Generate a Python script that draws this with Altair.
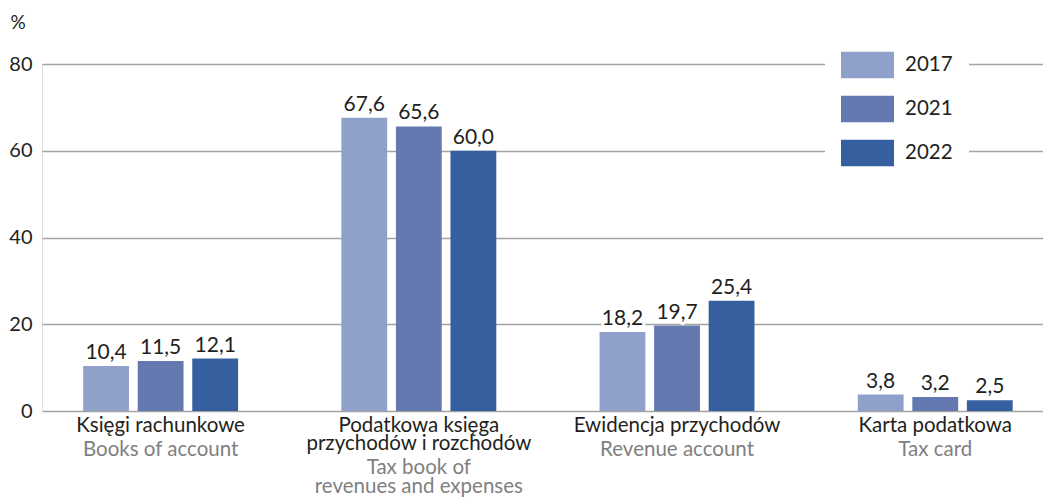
import json
import altair as alt
import pandas as pd

# ---- data ----
categories = ["Księgi rachunkowe", "Podatkowa księga przychodów i rozchodów",
              "Ewidencja przychodów", "Karta podatkowa"]
cat_pl_lines = [["Księgi rachunkowe"], ["Podatkowa księga", "przychodów i rozchodów"],
                ["Ewidencja przychodów"], ["Karta podatkowa"]]
cat_en_lines = [["Books of account"], ["", "Tax book of", "revenues and expenses"],
                ["Revenue account"], ["Tax card"]]
years = ["2017", "2021", "2022"]
v2017 = [10.4, 67.6, 18.2, 3.8]
v2021 = [11.5, 65.6, 19.7, 3.2]
v2022 = [12.1, 60.0, 25.4, 2.5]
y_ticks = [0, 20, 40, 60, 80]
colors = ["#8fa0ca", "#6379b0", "#365f9f"]

rows = []
for yr, vals in zip(years, [v2017, v2021, v2022]):
    for c, v in zip(categories, vals):
        rows.append({"cat": c, "year": yr, "value": v})
df = pd.DataFrame(rows)


def label_expr(lines):
    parts = []
    for c, l in zip(categories, lines):
        parts.append(f"datum.value == {json.dumps(c, ensure_ascii=False)} ? {json.dumps(l, ensure_ascii=False)}")
    return " : ".join(parts) + " : ''"


FONT = "Lato"
TXT = "#231f20"
GRAY = "#7f7f7f"

x_scale = alt.Scale(domain=categories, paddingInner=0.4, paddingOuter=0.1384, align=0.576, round=False)
xoff = alt.XOffset("year:N", sort=years, scale=alt.Scale(domain=years, paddingInner=0.16, paddingOuter=0))
y_enc = alt.Y("value:Q", scale=alt.Scale(domain=[0, 80]),
              axis=alt.Axis(values=y_ticks, title="%", titleAngle=0, titleX=-32, titleY=-42,
                            titleAlign="left", titleBaseline="middle", titleFontSize=19,
                            titleFontWeight="normal", titleColor=TXT, titleFont=FONT,
                            labelFontSize=20, labelColor=TXT, labelFont=FONT, labelPadding=10,
                            ticks=False, domain=False, grid=True, gridColor="#a3a3a3",
                            gridWidth=1.5))

pl_axis = alt.Axis(title=None, labelExpr=label_expr(cat_pl_lines), labelFontSize=20.5,
                   labelColor=TXT, labelFont=FONT, labelLineHeight=18.5, labelPadding=4,
                   labelLimit=500, labelOverlap=False, ticks=False, domain=False, grid=False,
                   labelAngle=0, orient="bottom")
en_axis = alt.Axis(title=None, labelExpr=label_expr(cat_en_lines), labelFontSize=20.5,
                   labelColor=GRAY, labelFont=FONT, labelLineHeight=18.5, labelPadding=28,
                   labelLimit=500, labelOverlap=False, ticks=False, domain=False, grid=False,
                   labelAngle=0, orient="bottom")

base = alt.Chart(df).transform_calculate(
    label="replace(format(datum.value, '.1f'), '.', ',')"
)

bars = base.mark_bar().encode(
    x=alt.X("cat:N", sort=categories, scale=x_scale, axis=pl_axis),
    xOffset=xoff,
    y=y_enc,
    color=alt.Color("year:N", sort=years, scale=alt.Scale(domain=years, range=colors),
                    legend=alt.Legend(title=None, orient="none", legendX=783, legendY=-41.5,
                                      symbolType="M-1,-0.5H1V0.5H-1Z", symbolSize=2809,
                                      symbolStrokeWidth=0, labelFontSize=20.5, labelColor=TXT,
                                      labelFont=FONT, labelOffset=11, rowPadding=4,
                                      padding=16, fillColor="white")),
)

halo = base.mark_text(baseline="alphabetic", dy=-7, fontSize=21, font=FONT, color="white",
                      stroke="white", strokeWidth=6, strokeJoin="round").encode(
    x=alt.X("cat:N", sort=categories, scale=x_scale, axis=None),
    xOffset=xoff,
    y=alt.Y("value:Q"),
    text="label:N",
)

labels = base.mark_text(baseline="alphabetic", dy=-7, fontSize=21, font=FONT, color=TXT).encode(
    x=alt.X("cat:N", sort=categories, scale=x_scale, axis=en_axis),
    xOffset=xoff,
    y=alt.Y("value:Q"),
    text="label:N",
)

chart = alt.layer(bars, halo, labels).resolve_axis(x="independent").properties(
    width=1001, height=347,
    autosize=alt.AutoSizeParams(type="none"),
    padding={"left": 34, "top": 56, "right": 0, "bottom": 86},
).configure_view(stroke=None).configure(font=FONT)

chart.save("out.html", embed_options={"renderer": "svg", "actions": False})
